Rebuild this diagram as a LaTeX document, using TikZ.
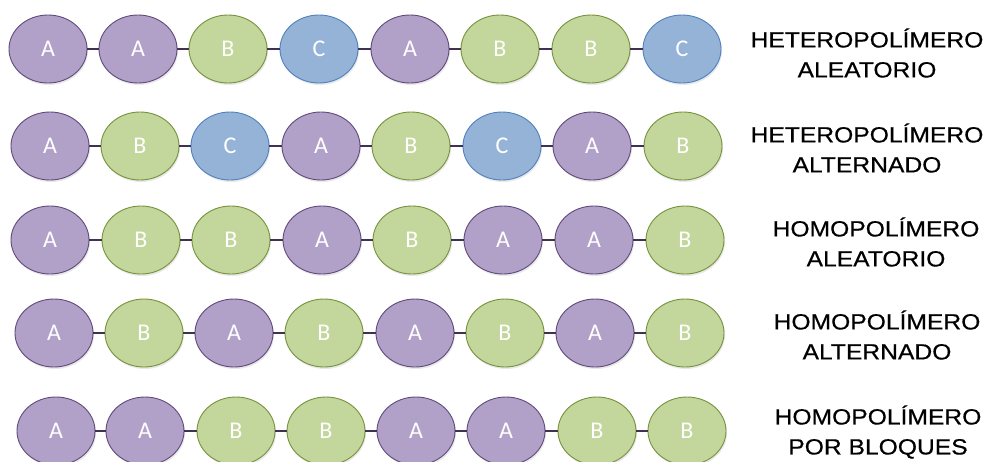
\documentclass[tikz,border=0pt]{standalone}
\usepackage{fontspec}
\setmainfont{Liberation Sans}
\newfontfamily\labfont[FakeBold=0.5]{Liberation Sans}
\newfontfamily\letterfont{Carlito}
\usetikzlibrary{shapes.geometric,shadows}
\definecolor{fA}{HTML}{B1A0C7}
\definecolor{dA}{HTML}{604A7B}
\definecolor{fB}{HTML}{C3D69B}
\definecolor{dB}{HTML}{76923C}
\definecolor{fC}{HTML}{95B3D7}
\definecolor{dC}{HTML}{4F81BD}
\definecolor{linkc}{HTML}{403152}
\tikzset{
  mono/.style={ellipse, minimum width=78pt, minimum height=68pt, inner sep=0pt,
    line width=0.9pt, fill=f#1, draw=d#1, text=white,
    font=\letterfont\fontsize{24}{24}\selectfont,
    drop shadow={opacity=0.18, shadow xshift=1pt, shadow yshift=-2pt}},
  link/.style={draw=linkc, line width=1.8pt},
  lab/.style={align=center, xscale=1.12, font=\labfont\fontsize{22}{30}\selectfont}
}
\begin{document}
\begin{tikzpicture}[x=1pt,y=-1pt]
\useasboundingbox (0,0) rectangle (993,461);
\foreach \row/\yy/\seq in {
  1/49/{48/A,138/A,228/B,319/C,410/A,500/B,591/B,682/C},
  2/146/{50/A,140/B,230/C,321/A,411/B,502/C,592/A,683/B},
  3/240/{50/A,141/B,231/B,322/A,412/B,503/A,594/A,685/B},
  4/333/{54/A,144/B,234/A,324/B,415/A,505/B,595/A,685/B},
  5/431/{56/A,145/A,236/B,326/B,416/A,506/A,597/B,687/B}} {
  \foreach \xx/\l [count=\j] in \seq {
    \node[mono=\l] (r\row-\j) at (\xx,\yy) {\l};
  }
  \foreach \j [evaluate=\j as \k using int(\j+1)] in {1,...,7} {
    \draw[link] (r\row-\j) -- (r\row-\k);
  }
}
\node[lab] (t1) at (867,53) {HETEROPOLÍMERO\\ALEATORIO};
\node[lab] (t2) at (867,148) {HETEROPOLÍMERO\\ALTERNADO};
\node[lab] (t3) at (876,242) {HOMOPOLÍMERO\\ALEATORIO};
\node[lab] (t4) at (877,335) {HOMOPOLÍMERO\\ALTERNADO};
\node[lab] (t5) at (878,432) {HOMOPOLÍMERO\\POR BLOQUES};
\end{tikzpicture}
\end{document}
